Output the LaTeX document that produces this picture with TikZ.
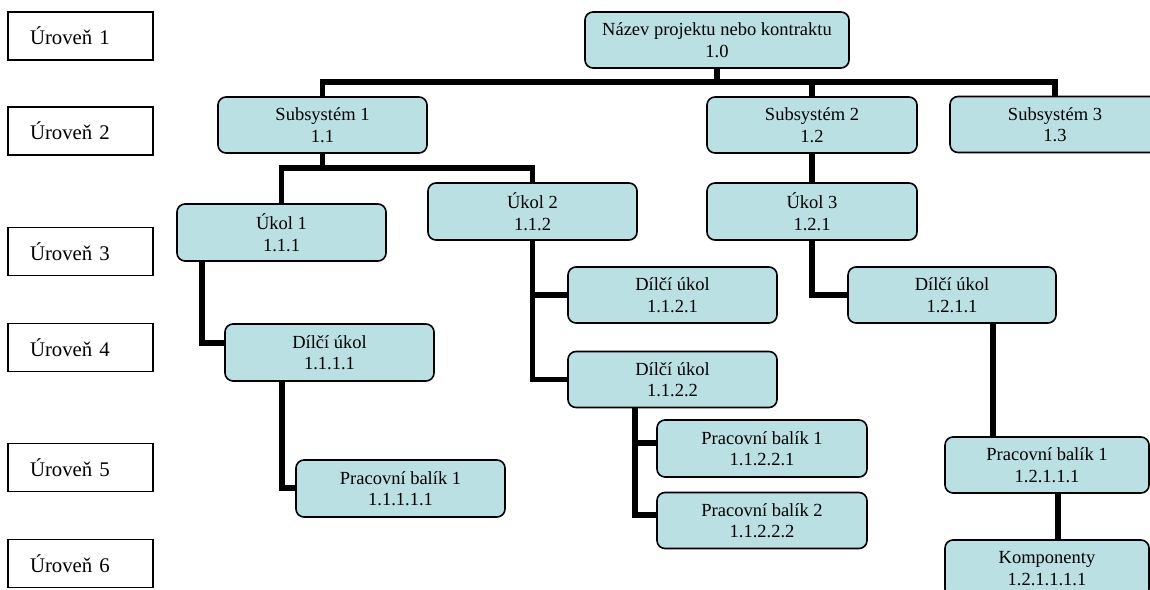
\documentclass[tikz,border=0pt]{standalone}
\usepackage{fontspec}
\setmainfont{Liberation Serif}
\definecolor{boxteal}{RGB}{186,224,227}
\tikzset{
  wbs/.style={draw=black, fill=boxteal, rounded corners=8pt, line width=1.6pt,
    align=center, inner sep=0pt, font=\fontsize{18.5}{21.5}\selectfont},
  lvl/.style={draw=black, line width=1.6pt, minimum width=145pt, minimum height=48pt,
    text width=101pt, inner xsep=22pt, inner ysep=0pt, align=left,
    font=\fontsize{20.8}{23}\selectfont},
  conn/.style={line width=5.6pt, line join=miter, line cap=butt}
}
\begin{document}
\begin{tikzpicture}[x=1pt, y=-1pt]
\path[use as bounding box, clip] (0,0) rectangle (1150,589);
% level labels
\node[lvl] (l1) at (80.5,36) {Úroveň 1};
\node[lvl] (l2) at (80.5,131) {Úroveň 2};
\node[lvl] (l3) at (80.5,251.5) {Úroveň 3};
\node[lvl] (l4) at (80.5,347.5) {Úroveň 4};
\node[lvl] (l5) at (80.5,467.5) {Úroveň 5};
\node[lvl] (l6) at (80.5,563.5) {Úroveň 6};
% WBS boxes
\node[wbs, minimum width=264pt, minimum height=56pt] (top) at (717,40) {Název projektu nebo kontraktu\\1.0};
\node[wbs, minimum width=209pt, minimum height=56pt] (s1) at (322.5,125) {Subsystém 1\\1.1};
\node[wbs, minimum width=210pt, minimum height=56pt] (s2) at (812,125) {Subsystém 2\\1.2};
\node[wbs, minimum width=210pt, minimum height=56pt] (s3) at (1055,124.5) {Subsystém 3\\1.3};
\node[wbs, minimum width=209pt, minimum height=57pt] (u1) at (281.5,232.5) {Úkol 1\\1.1.1};
\node[wbs, minimum width=209pt, minimum height=57pt] (u2) at (532.5,211.5) {Úkol 2\\1.1.2};
\node[wbs, minimum width=210pt, minimum height=57pt] (u3) at (812,211.5) {Úkol 3\\1.2.1};
\node[wbs, minimum width=209pt, minimum height=57pt] (d1111) at (329.5,352.5) {Dílčí úkol\\1.1.1.1};
\node[wbs, minimum width=209pt, minimum height=56pt] (d1121) at (672.5,295) {Dílčí úkol\\1.1.2.1};
\node[wbs, minimum width=209pt, minimum height=56pt] (d1122) at (672.5,379.5) {Dílčí úkol\\1.1.2.2};
\node[wbs, minimum width=209pt, minimum height=57pt] (p11111) at (400.5,488.5) {Pracovní balík 1\\1.1.1.1.1};
\node[wbs, minimum width=210pt, minimum height=57pt] (p11221) at (762,448.5) {Pracovní balík 1\\1.1.2.2.1};
\node[wbs, minimum width=210pt, minimum height=56pt] (p11222) at (762,520.5) {Pracovní balík 2\\1.1.2.2.2};
\node[wbs, minimum width=208pt, minimum height=56pt] (d1211) at (952,295) {Dílčí úkol\\1.2.1.1};
\node[wbs, minimum width=204pt, minimum height=56pt] (p12111) at (1047,465) {Pracovní balík 1\\1.2.1.1.1};
\node[wbs, minimum width=204pt, minimum height=57pt] (komp) at (1047,568.5) {Komponenty\\1.2.1.1.1.1};
% junction coordinates
\coordinate (bus1) at (0,82);
\coordinate (bus2) at (0,168);
\coordinate (j1) at (202,343);
\coordinate (j2) at (282,488);
\coordinate (j3) at (635,443);
\coordinate (j4) at (635,515);
\coordinate (j5) at (993,0);
\coordinate (j6) at (1058,0);
% connectors
\draw[conn] (top.south) -- (top.south |- bus1);
\draw[conn] (s1.north) -- (s1.north |- bus1) -- (s3.north |- bus1) -- (s3.north);
\draw[conn] (s2.north) -- (s2.north |- bus1);
\draw[conn] (s1.south) -- (s1.south |- bus2);
\draw[conn] (u1.north) -- (u1.north |- bus2) -- (u2.north |- bus2) -- (u2.north);
\draw[conn] (s2.south) -- (u3.north);
\draw[conn] (u1.south -| j1) -- (j1) -- (d1111.west |- j1);
\draw[conn] (d1111.south -| j2) -- (j2) -- (p11111.west |- j2);
\draw[conn] (u2.south) |- (d1122.west);
\draw[conn] (u2.south |- d1121.west) -- (d1121.west);
\draw[conn] (d1122.south -| j3) -- (j4) -- (p11222.west |- j4);
\draw[conn] (j3) -- (p11221.west |- j3);
\draw[conn] (u3.south) |- (d1211.west);
\draw[conn] (d1211.south -| j5) -- (p12111.north -| j5);
\draw[conn] (p12111.south -| j6) -- (komp.north -| j6);
\end{tikzpicture}
\end{document}
